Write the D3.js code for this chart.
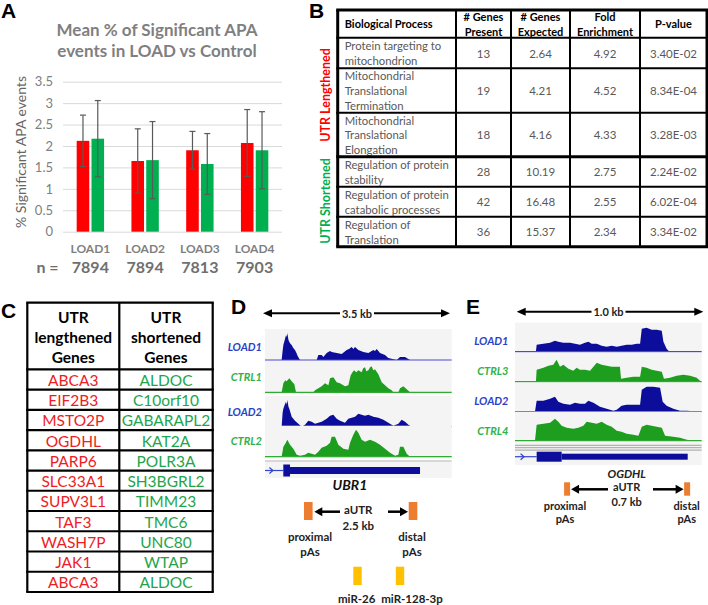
<!DOCTYPE html>
<html><head><meta charset="utf-8">
<script src="https://cdn.jsdelivr.net/npm/d3@7/dist/d3.min.js"></script>
<style>body{margin:0;background:#fff}svg{display:block}</style>
</head><body><svg id="c" width="708" height="605"></svg>
<script>
// ---------- Panel A data ----------
const categories = ["LOAD1","LOAD2","LOAD3","LOAD4"];
const nValues = ["7894","7894","7813","7903"];
const loadMeans = [2.12,1.65,1.90,2.07];
const loadErr = [0.60,0.75,0.44,0.78];
const ctrlMeans = [2.17,1.67,1.58,1.90];
const ctrlErr = [0.89,0.90,0.71,0.90];
const yTicks = [0,0.5,1,1.5,2,2.5,3,3.5];
const seriesNames = ["LOAD","Control"];

// ---------- Panel B data ----------
const goHeaders = [["Biological Process"],["# Genes","Present"],["# Genes","Expected"],["Fold","Enrichment"],["P-value"]];
const goProcesses = [["Protein targeting to","mitochondrion"],["Mitochondrial","Translational","Termination"],["Mitochondrial","Translational","Elongation"],["Regulation of protein","stability"],["Regulation of protein","catabolic processes"],["Regulation of","Translation"]];
const genesPresent = ["13","19","18","28","42","36"];
const genesExpected = ["2.64","4.21","4.16","10.19","16.48","15.37"];
const foldEnrichment = ["4.92","4.52","4.33","2.75","2.55","2.34"];
const pValues = ["3.40E-02","8.34E-04","3.28E-03","2.24E-02","6.02E-04","3.34E-02"];
const goGroups = ["UTR Lengthened","UTR Shortened"];

// ---------- Panel C data ----------
const geneHeaders = [["UTR","lengthened","Genes"],["UTR","shortened","Genes"]];
const lengthenedGenes = ["ABCA3","EIF2B3","MSTO2P","OGDHL","PARP6","SLC33A1","SUPV3L1","TAF3","WASH7P","JAK1","ABCA3"];
const shortenedGenes = ["ALDOC","C10orf10","GABARAPL2","KAT2A","POLR3A","SH3BGRL2","TIMM23","TMC6","UNC80","WTAP","ALDOC"];

// ---------- Panel D data (UBR1, 3.5 kb window; [bp, coverage]) ----------
const ubr1Labels = ["LOAD1","CTRL1","LOAD2","CTRL2"];
const ubr1Load1 = [[0,0],[312,0],[330,9],[344,15],[370,20],[394,25],[410,23],[419,27],[440,20],[456,18],[480,16],[500,15],[530,12],[562,10],[590,7],[612,4],[656,0],[969,0],[1000,5],[1062,5],[1094,3],[1156,7],[1219,9],[1250,8],[1344,7],[1438,6],[1531,10],[1575,11],[1625,13],[1656,11],[1688,13],[1750,10],[1844,8],[1938,7],[2031,10],[2062,9],[2094,11],[2156,7],[2250,5],[2312,2],[2469,0],[2531,3],[2625,3],[2719,0],[3500,0]];
const ubr1Ctrl1 = [[0,0],[312,0],[344,9],[380,12],[406,11],[456,14],[500,11],[550,8],[581,0],[906,0],[938,2],[1000,4],[1062,6],[1125,9],[1188,7],[1219,14],[1281,15],[1344,10],[1406,9],[1500,6],[1562,7],[1606,17],[1640,20],[1669,22],[1710,20],[1750,22],[1812,20],[1840,24],[1875,25],[1900,21],[1938,22],[1970,25],[2000,26],[2030,22],[2062,23],[2125,18],[2188,10],[2250,7],[2312,4],[2375,2],[2406,0],[2500,0],[2531,4],[2594,6],[2656,3],[2719,0],[3500,0]];
const ubr1Load2 = [[0,0],[312,0],[330,14],[344,18],[370,22],[394,25],[410,22],[419,27],[440,20],[456,18],[500,10],[562,6],[625,3],[688,0],[750,2],[812,6],[875,5],[938,3],[1000,4],[1062,5],[1156,8],[1219,11],[1281,12],[1344,8],[1406,6],[1500,4],[1562,8],[1625,9],[1688,10],[1750,13],[1812,12],[1875,11],[1938,12],[2031,10],[2125,9],[2219,7],[2312,4],[2406,1],[2500,3],[2562,7],[2625,5],[2688,2],[2750,0],[3500,0]];
const ubr1Ctrl2 = [[0,0],[312,0],[344,10],[380,13],[419,17],[469,12],[531,8],[594,2],[656,1],[750,2],[812,4],[875,3],[938,2],[1000,5],[1062,9],[1156,11],[1219,14],[1250,20],[1312,20],[1375,12],[1469,8],[1562,7],[1594,14],[1656,22],[1706,27],[1750,24],[1812,17],[1875,15],[1969,17],[2062,15],[2156,12],[2250,8],[2344,4],[2438,1],[2500,2],[2531,10],[2594,10],[2656,3],[2719,0],[3500,0]];
const ubr1Gene = {intron:[0,343], exons:[[343,469,"cds"],[469,2906,"utr"]]};
const ubr1PAs = [812,2775];
const ubr1MiR = [[1734,"miR-26"],[2531,"miR-128-3p"]];

// ---------- Panel E data (OGDHL, 1.0 kb window) ----------
const ogdhlLabels = ["LOAD1","CTRL3","LOAD2","CTRL4"];
const ogdhlLoad1 = [[0,0],[112,0],[116,7],[152,8],[188,9],[214,11],[232,10],[259,9],[295,9],[321,8],[348,7],[375,9],[393,10],[411,8],[438,8],[464,6],[491,5],[518,6],[545,5],[571,6],[598,7],[625,7],[652,8],[670,8],[679,23],[705,24],[732,22],[759,22],[786,21],[795,10],[812,3],[827,0],[1000,0]];
const ogdhlCtrl3 = [[0,0],[112,0],[116,12],[152,14],[179,16],[205,17],[223,22],[241,15],[259,17],[286,13],[312,11],[330,14],[348,12],[375,12],[402,11],[438,19],[464,17],[491,16],[518,15],[562,15],[568,3],[598,4],[634,5],[670,5],[679,15],[705,14],[732,12],[759,11],[786,10],[798,3],[830,4],[866,6],[902,7],[938,6],[973,4],[991,1],[1000,0]];
const ogdhlLoad2 = [[0,0],[107,0],[116,11],[152,11],[188,13],[214,15],[232,10],[259,8],[295,7],[321,9],[348,8],[375,8],[393,11],[420,9],[455,5],[491,3],[527,1],[545,2],[571,6],[598,7],[634,7],[670,7],[679,22],[705,25],[741,25],[777,24],[791,10],[812,6],[848,3],[884,1],[920,1],[991,0],[1000,0]];
const ogdhlCtrl4 = [[0,0],[107,0],[116,16],[152,17],[188,18],[214,22],[232,19],[250,15],[277,13],[312,12],[339,13],[366,15],[384,19],[411,18],[438,17],[464,19],[491,16],[518,14],[545,10],[571,9],[598,7],[634,6],[661,5],[679,14],[705,16],[732,15],[759,14],[786,13],[804,5],[848,4],[884,3],[920,1],[955,0],[1000,0]];
const ogdhlGene = {intron:[0,116], exons:[[116,250,"cds"],[250,925,"utr"]]};
const ogdhlPAs = [279,922];

// =====================================================
const svg = d3.select("#c");
const CAL = "Lato, 'Open Sans', sans-serif";
const ARIAL = "'Liberation Sans', Arial, sans-serif";
const RED = "#ff0000", GRAY = "#7f7f7f";

function panelLetter(t,x,y){
  svg.append("text").attr("x",x).attr("y",y).text(t)
    .attr("font-family",ARIAL).attr("font-weight","bold").attr("font-size",21).attr("fill","#000");
}
function txt(g,t,x,y,opt={}){
  return g.append("text").attr("x",x).attr("y",y).text(t)
    .attr("font-family",opt.family||CAL).attr("font-size",opt.size||12)
    .attr("font-weight",opt.weight||"normal").attr("font-style",opt.style||"normal")
    .attr("fill",opt.fill||"#000").attr("text-anchor",opt.anchor||"middle")
    .attr("dominant-baseline",opt.base||"central");
}

// ---------------- Panel A ----------------
panelLetter("A",1,18);
const gA = svg.append("g");
txt(gA,"Mean % of Significant APA",157,29,{size:17,weight:"bold",fill:GRAY});
txt(gA,"events in LOAD vs Control",157,50,{size:17,weight:"bold",fill:GRAY});
const x0 = d3.scaleBand().domain(categories).range([63,282]).paddingInner(0.5).paddingOuter(0.25);
const x1 = d3.scaleBand().domain(seriesNames).range([0,x0.bandwidth()]).paddingInner(0.15);
const yA = d3.scaleLinear().domain([0,3.5]).range([231.7,81.7]);
const axA = gA.append("g").attr("transform","translate(63,0)")
  .call(d3.axisLeft(yA).tickValues(yTicks).tickSize(-219).tickPadding(10).tickFormat(d3.format("")));
axA.select(".domain").remove();
axA.selectAll(".tick line").attr("stroke","#d9d9d9").attr("stroke-width",1);
axA.selectAll(".tick text").attr("font-family",CAL).attr("font-size",13).attr("fill","#808080");
txt(gA,"% Significant APA events",0,0,{size:14,fill:"#666"}).attr("transform","translate(20,152) rotate(-90)");
const seriesData = [{name:"LOAD",m:loadMeans,e:loadErr,c:RED},{name:"Control",m:ctrlMeans,e:ctrlErr,c:"#00b050"}];
seriesData.forEach(s=>{
  categories.forEach((cat,i)=>{
    const bx = x0(cat)+x1(s.name), bw = x1.bandwidth(), cx = bx+bw/2;
    gA.append("rect").attr("x",bx).attr("y",yA(s.m[i])).attr("width",bw).attr("height",yA(0)-yA(s.m[i])).attr("fill",s.c);
    const lo=yA(s.m[i]-s.e[i]), hi=yA(s.m[i]+s.e[i]);
    gA.append("line").attr("x1",cx).attr("x2",cx).attr("y1",lo).attr("y2",hi).attr("stroke","#595959").attr("stroke-width",1.2);
    [lo,hi].forEach(yy=>gA.append("line").attr("x1",cx-3).attr("x2",cx+3).attr("y1",yy).attr("y2",yy).attr("stroke","#595959").attr("stroke-width",1.2));
  });
});
categories.forEach((cat,i)=>{
  const cx = x0(cat)+x0.bandwidth()/2;
  txt(gA,cat,cx,248.5,{size:12,weight:"bold",fill:GRAY});
  txt(gA,nValues[i],cx,266.5,{size:16,weight:"bold",fill:"#6f6f6f"});
});
txt(gA,"n =",47.5,266.5,{size:16,weight:"bold",fill:"#6f6f6f"});

// ---------------- Panel B ----------------
panelLetter("B",309,18);
const gB = svg.append("g");
const colX = [337.7,456,511,570,640,707];
const rowY = [10,37.7,68.3,112.7,156.7,186.7,216.7,246.7];
const lh = 14.7;
goHeaders.forEach((h,c)=>{
  const cy = (rowY[0]+rowY[1])/2;
  h.forEach((line,k)=>{
    const yy = cy + (k-(h.length-1)/2)*15;
    if(c===0) txt(gB,line,colX[0]+7,yy,{size:11,weight:"bold",anchor:"start"});
    else txt(gB,line,(colX[c]+colX[c+1])/2,yy,{size:11,weight:"bold"});
  });
});
const goCols = [genesPresent,genesExpected,foldEnrichment,pValues];
goProcesses.forEach((p,r)=>{
  const cy = (rowY[r+1]+rowY[r+2])/2;
  p.forEach((line,k)=>{
    txt(gB,line,colX[0]+7,cy+(k-(p.length-1)/2)*lh,{size:11.3,anchor:"start",fill:"#595959"});
  });
  goCols.forEach((col,c)=>{
    txt(gB,col[r],(colX[c+1]+colX[c+2])/2,cy,{size:11.5,fill:"#595959"});
  });
});
colX.forEach((x,i)=>gB.append("line").attr("x1",x).attr("x2",x).attr("y1",rowY[0]).attr("y2",rowY[7])
  .attr("stroke","#000").attr("stroke-width",(i===0||i===colX.length-1)?3:2));
rowY.forEach((y,i)=>gB.append("line").attr("x1",colX[0]-1.5).attr("x2",colX[5]+1.5).attr("y1",y).attr("y2",y)
  .attr("stroke","#000").attr("stroke-width",(i===0||i===7||i===4)?3:2));
txt(gB,goGroups[0],0,0,{size:12.5,weight:"bold",fill:RED}).attr("transform","translate(325,95) rotate(-90)");
txt(gB,goGroups[1],0,0,{size:12.5,weight:"bold",fill:"#00b050"}).attr("transform","translate(325,201) rotate(-90)");

// ---------------- Panel C ----------------
panelLetter("C",1,318);
const gC = svg.append("g");
const cColX = [27.3,119.3,212.7];
const cHeadTop = 302.7, cHeadBot = 369.3, cBot = 592;
const rowH = (cBot-cHeadBot)/lengthenedGenes.length;
geneHeaders.forEach((h,c)=>{
  h.forEach((line,k)=>txt(gC,line,(cColX[c]+cColX[c+1])/2,316.7+k*20,{size:15.5,weight:"bold"}));
});
[lengthenedGenes,shortenedGenes].forEach((list,c)=>{
  list.forEach((g,r)=>txt(gC,g,(cColX[c]+cColX[c+1])/2,cHeadBot+rowH*(r+0.5)+0.5,{size:15.5,fill:c===0?"#ee1c24":"#1ea54c"}));
});
cColX.forEach(x=>gC.append("line").attr("x1",x).attr("x2",x).attr("y1",cHeadTop).attr("y2",cBot).attr("stroke","#000").attr("stroke-width",2.2));
[cHeadTop,cHeadBot,...d3.range(1,lengthenedGenes.length).map(i=>cHeadBot+i*rowH),cBot].forEach(y=>
  gC.append("line").attr("x1",cColX[0]-1.1).attr("x2",cColX[2]+1.1).attr("y1",y).attr("y2",y).attr("stroke","#000").attr("stroke-width",2.2));

// ---------------- shared track drawing ----------------
const BLUE="#0d0d9c", TGREEN="#1e9e1e", LBLUE="#2a3fc8", LGREEN="#2fb34a";
function scaleArrow(g,x1,x2,y,label,tx){
  g.append("line").attr("x1",x1+7).attr("x2",tx-17).attr("y1",y).attr("y2",y).attr("stroke","#000").attr("stroke-width",2);
  g.append("line").attr("x1",tx+17).attr("x2",x2-7).attr("y1",y).attr("y2",y).attr("stroke","#000").attr("stroke-width",2);
  g.append("path").attr("d",d3.line()([[x1,y],[x1+9,y-4],[x1+9,y+4]])+"Z").attr("fill","#000");
  g.append("path").attr("d",d3.line()([[x2,y],[x2-9,y-4],[x2-9,y+4]])+"Z").attr("fill","#000");
  txt(g,label,tx,y,{size:11,weight:"bold",fill:"#222"});
}
function arrow(g,xFrom,xTo,y){
  const dir = Math.sign(xTo-xFrom);
  g.append("line").attr("x1",xFrom).attr("x2",xTo-dir*7).attr("y1",y).attr("y2",y).attr("stroke","#000").attr("stroke-width",2.5);
  g.append("path").attr("d",d3.line()([[xTo,y],[xTo-dir*8,y-4.5],[xTo-dir*8,y+4.5]])+"Z").attr("fill","#000");
}
function tracks(g,xs,tracksData,labels,baselines,labelYs,labelRight,bandH){
  const yCov = d3.scaleLinear().domain([0,30]).range([0,30]);
  tracksData.forEach((d,i)=>{
    const base = baselines[i];
    const isLoad = labels[i].startsWith("LOAD");
    g.append("rect").attr("x",xs.range()[0]).attr("width",xs.range()[1]-xs.range()[0])
      .attr("y",base-bandH).attr("height",bandH+2).attr("fill","#f4f4f4");
    const area = d3.area().x(p=>xs(p[0])).y0(base).y1(p=>base-yCov(p[1]));
    g.append("path").attr("d",area(d)).attr("fill",isLoad?BLUE:TGREEN);
    g.append("line").attr("x1",xs.range()[0]).attr("x2",xs.range()[1]).attr("y1",base).attr("y2",base)
      .attr("stroke",isLoad?"#4a4ad0":"#33aa33").attr("stroke-width",1.2);
    txt(g,labels[i],labelRight,labelYs[i],{size:11,weight:"bold",style:"italic",anchor:"end",fill:isLoad?LBLUE:LGREEN});
  });
}
function geneModel(g,xs,gene,y,hCds,hUtr){
  g.append("line").attr("x1",xs(gene.intron[0])).attr("x2",xs(gene.intron[1])).attr("y1",y).attr("y2",y).attr("stroke","#3344cc").attr("stroke-width",1.2);
  const ax = xs(gene.intron[0])+(xs(gene.intron[1])-xs(gene.intron[0]))*0.35;
  g.append("path").attr("d",`M${ax-2},${y-3}L${ax+1.5},${y}L${ax-2},${y+3}`).attr("fill","none").attr("stroke","#3344cc").attr("stroke-width",1.2);
  gene.exons.forEach(e=>{
    const h = e[2]==="cds"?hCds:hUtr;
    g.append("rect").attr("x",xs(e[0])).attr("width",xs(e[1])-xs(e[0])).attr("y",y-h/2).attr("height",h).attr("fill",BLUE);
  });
}

// ---------------- Panel D ----------------
panelLetter("D",231,314);
const gD = svg.append("g");
const xD = d3.scaleLinear().domain([0,3500]).range([265,451.7]);
scaleArrow(gD,263,450,313.3,"3.5 kb",357);
gD.append("rect").attr("x",265).attr("width",186.7).attr("y",462).attr("height",16).attr("fill","#f4f4f4");
tracks(gD,xD,[ubr1Load1,ubr1Ctrl1,ubr1Load2,ubr1Ctrl2],ubr1Labels,[360,392.3,426.7,456.7],[346.7,376.7,411.7,440],262,31);
gD.append("line").attr("x1",265).attr("x2",451.7).attr("y1",461).attr("y2",461).attr("stroke","#b0b0b0").attr("stroke-width",1);
geneModel(gD,xD,ubr1Gene,470.5,12,7);
txt(gD,"UBR1",350,484,{size:14,weight:"bold",style:"italic",fill:"#111"});
ubr1PAs.forEach(p=>gD.append("rect").attr("x",xD(p)-4.3).attr("width",8.6).attr("y",502).attr("height",18).attr("fill","#ed7d31"));
arrow(gD,340,xD(ubr1PAs[0])+6,511.7);
arrow(gD,388,xD(ubr1PAs[1])-5,511.7);
txt(gD,"aUTR",358.3,509,{size:11.5,weight:"bold",fill:"#222"});
txt(gD,"2.5 kb",358.3,525,{size:11.5,weight:"bold",fill:"#222"});
[["proximal",xD(ubr1PAs[0])+1.7],["distal",xD(ubr1PAs[1])-1]].forEach(([t,x])=>{
  txt(gD,t,x,536.7,{size:11.5,weight:"bold",fill:"#222"});
  txt(gD,"pAs",x,551.7,{size:11.5,weight:"bold",fill:"#222"});
});
ubr1MiR.forEach(([p])=>gD.append("rect").attr("x",xD(p)-4.2).attr("width",8.4).attr("y",566.7).attr("height",18.3).attr("fill","#ffc000"));
txt(gD,ubr1MiR[0][1],356.7,598,{size:11.5,weight:"bold",fill:"#222"});
txt(gD,ubr1MiR[1][1],412,598,{size:11.5,weight:"bold",fill:"#222"});

// ---------------- Panel E ----------------
panelLetter("E",466,314);
const gE = svg.append("g");
const xE = d3.scaleLinear().domain([0,1000]).range([515,701.7]);
scaleArrow(gE,516.7,703.3,311.7,"1.0 kb",608.5);
gE.append("rect").attr("x",515).attr("width",186.7).attr("y",443).attr("height",22).attr("fill","#f4f4f4");
tracks(gE,xE,[ogdhlLoad1,ogdhlCtrl3,ogdhlLoad2,ogdhlCtrl4],ogdhlLabels,[351.7,381.7,411.7,440.7],[340,370,400.7,430],508.5,29);
[445.3,447.7,450.1].forEach(y=>gE.append("line").attr("x1",515).attr("x2",701.7).attr("y1",y).attr("y2",y).attr("stroke","#999").attr("stroke-width",0.9));
geneModel(gE,xE,ogdhlGene,456.7,10,6);
txt(gE,"OGDHL",626.7,473.3,{size:11.5,weight:"bold",style:"italic",fill:"#222"});
ogdhlPAs.forEach(p=>gE.append("rect").attr("x",xE(p)-3).attr("width",6).attr("y",482.3).attr("height",13.4).attr("fill","#ed7d31"));
arrow(gE,608,xE(ogdhlPAs[0])+4,489.3);
arrow(gE,653,xE(ogdhlPAs[1])-3.5,489.3);
txt(gE,"aUTR",626.7,486.7,{size:11,weight:"bold",fill:"#222"});
txt(gE,"0.7 kb",626.7,501.7,{size:11,weight:"bold",fill:"#222"});
[["proximal",565],["distal",686.7]].forEach(([t,x])=>{
  txt(gE,t,x,505,{size:11,weight:"bold",fill:"#222"});
  txt(gE,"pAs",x,518.5,{size:11,weight:"bold",fill:"#222"});
});
</script></body></html>
